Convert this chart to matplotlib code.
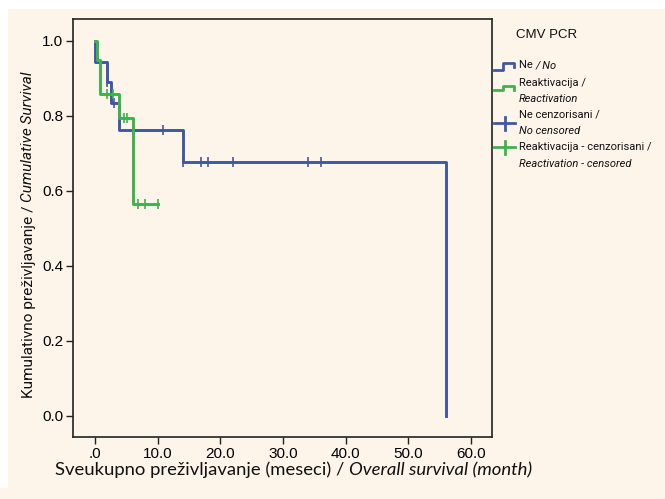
import matplotlib
matplotlib.use("Agg")
import matplotlib.pyplot as plt
from matplotlib.patches import Rectangle
from matplotlib.lines import Line2D
from matplotlib.transforms import IdentityTransform

# DATA
ne_time = [0.0, 0.05, 2.0, 2.5, 3.9, 14.0, 56.0]
ne_surv = [1.0, 0.944, 0.889, 0.833, 0.762, 0.677, 0.0]
ne_cens_time = [2.0, 3.0, 6.0, 10.9, 14.0, 17.0, 18.0, 22.0, 34.0, 36.0]
ne_cens_surv = [0.889, 0.833, 0.762, 0.762, 0.677, 0.677, 0.677, 0.677, 0.677, 0.677]

re_time = [0.0, 0.3, 0.8, 3.9, 6.0, 10.1]
re_surv = [1.0, 0.95, 0.857, 0.793, 0.566, 0.566]
re_cens_time = [1.9, 2.9, 4.7, 5.1, 6.9, 8.0, 10.0]
re_cens_surv = [0.857, 0.857, 0.793, 0.793, 0.566, 0.566, 0.566]

x_ticks = [0, 10, 20, 30, 40, 50, 60]
x_tick_labels = ['.0', '10.0', '20.0', '30.0', '40.0', '50.0', '60.0']
y_ticks = [0.0, 0.2, 0.4, 0.6, 0.8, 1.0]
y_tick_labels = ['0.0', '0.2', '0.4', '0.6', '0.8', '1.0']

BLUE = '#4056a8'
GREEN = '#3cb44b'
BG = '#fdf4ea'

NARROW = 'Roboto'
ARIAL = 'Liberation Sans'
LABEL = 'Lato'

W, H = 665, 499
fig = plt.figure(figsize=(W / 100, H / 100), dpi=100)
fig.patch.set_facecolor(BG)
# white margins at the top and on the left
fig.patches.append(Rectangle((0, 1 - 9 / H), 1, 9 / H, transform=fig.transFigure,
                             facecolor='white', edgecolor='none', zorder=-10))
fig.patches.append(Rectangle((0, 1 - 488 / H), 8 / W, (488 - 9) / H, transform=fig.transFigure,
                             facecolor='white', edgecolor='none', zorder=-10))

ax = fig.add_axes([73 / W, 1 - 437 / H, (492 - 73) / W, (437 - 19) / H])
ax.set_facecolor(BG)

# survival curves
ax.step(ne_time, ne_surv, where='post', color=BLUE, lw=2.1, zorder=3)
ax.step(re_time, re_surv, where='post', color=GREEN, lw=2.1, zorder=4)
ax.plot(ne_cens_time, ne_cens_surv, ls='none', marker='|', ms=7, mew=1.2, color=BLUE, zorder=3)
ax.plot(re_cens_time, re_cens_surv, ls='none', marker='|', ms=7, mew=1.2, color=GREEN, zorder=4)

ax.set_xlim(-3.5, 63.35)
ax.set_ylim(-0.056, 1.058)
ax.set_xticks(x_ticks)
ax.set_xticklabels(x_tick_labels)
ax.set_yticks(y_ticks)
ax.set_yticklabels(y_tick_labels)
ax.tick_params(length=5, width=1, pad=2, labelsize=11, color='#222222')
for lab in ax.get_xticklabels() + ax.get_yticklabels():
    lab.set_fontfamily(ARIAL)
for sp in ax.spines.values():
    sp.set_linewidth(1.2)
    sp.set_color('#222222')

renderer = fig.canvas.get_renderer()


def mixed(x, y, parts, rotation=0, family=LABEL, size=12, length=None):
    # draw regular/italic pieces one after another on one baseline;
    # x, y in image pixels from the top-left; length = wanted total extent
    def draw(sz):
        cx, cy = x, H - y
        arts = []
        for s, style in parts:
            t = fig.text(cx, cy, s, transform=IdentityTransform(), rotation=rotation,
                         rotation_mode='anchor', ha='left', va='baseline',
                         family=family, style=style, fontsize=sz, color='#111111')
            bb = t.get_window_extent(renderer)
            if rotation == 0:
                cx = bb.x1
            else:
                cy = bb.y1
            arts.append(t)
        total = (cx - x) if rotation == 0 else (cy - (H - y))
        return arts, total

    arts, total = draw(size)
    if length is not None:
        for a in arts:
            a.remove()
        size = size * length / total
        arts, total = draw(size)
    return size


# axis labels
mixed(55, 475.5, [('Sveukupno preživljavanje (meseci) / ', 'normal'),
                  ('Overall survival (month)', 'italic')], family=LABEL, size=13, length=475)
mixed(32.5, 398, [('Kumulativno preživljavanje / ', 'normal'),
                  ('Cumulative Survival', 'italic')], rotation=90, family=NARROW, size=12, length=325)

# legend
fig.text(516 / W, 1 - 37.5 / H, 'CMV PCR', family=ARIAL, fontsize=9.5, va='baseline', color='#111111')
lsize = mixed(519, 150, [('Reaktivacija - cenzorisani /', 'normal')], family=NARROW, size=9, length=133)
mixed(519, 68.5, [('Ne ', 'normal'), ('/ No', 'italic')], family=NARROW, size=lsize)
mixed(519, 86, [('Reaktivacija /', 'normal')], family=NARROW, size=lsize)
mixed(519, 102.5, [('Reactivation', 'italic')], family=NARROW, size=lsize)
mixed(519, 117.5, [('Ne cenzorisani /', 'normal')], family=NARROW, size=lsize)
mixed(519, 134, [('No censored', 'italic')], family=NARROW, size=lsize)
mixed(519, 167, [('Reactivation - censored', 'italic')], family=NARROW, size=lsize)


def fig_line(xs, ys, color):
    fig.lines.append(Line2D([x / W for x in xs], [1 - y / H for y in ys],
                            transform=fig.transFigure, color=color, lw=2.0))


# legend symbols: step glyphs and censor crosses
fig_line([494, 503, 503, 514, 514], [70, 70, 63, 63, 67], BLUE)
fig_line([494, 503, 503, 514, 514], [90, 90, 86, 86, 90], GREEN)
fig_line([494, 515], [123, 123], BLUE)
fig_line([504.5, 504.5], [116.5, 130], BLUE)
fig_line([494, 515], [147, 147], GREEN)
fig_line([504.5, 504.5], [140.5, 153.5], GREEN)

fig.savefig('out.png', dpi=100, facecolor=fig.get_facecolor())
